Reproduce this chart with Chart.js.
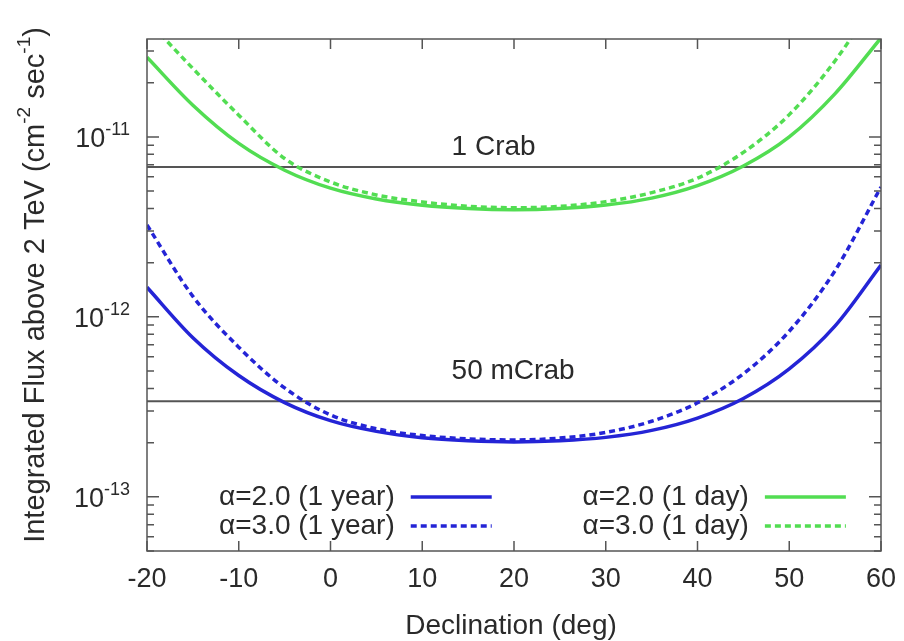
<!DOCTYPE html>
<html>
<head>
<meta charset="utf-8">
<title>Integrated flux sensitivity vs declination</title>
<script src="https://cdn.jsdelivr.net/npm/chart.js@4.4.1/dist/chart.umd.min.js"></script>
<style>
  html, body { margin: 0; padding: 0; background: #fff; }
  #wrap { width: 904px; height: 641px; }
</style>
</head>
<body>
<div id="wrap"><canvas id="fluxChart" width="904" height="641"></canvas></div>
<script>
// declination grid (deg) and sensitivity curves (cm^-2 s^-1, above 2 TeV)
const declination = [-20, -15, -10, -5, 0, 5, 10, 15, 20, 25, 30, 35, 40, 45, 50, 55, 60];
const fluxA2Year = [1.46e-12, 7.66e-13, 4.72e-13, 3.34e-13, 2.65e-13, 2.31e-13, 2.13e-13, 2.05e-13, 2.02e-13,
                    2.05e-13, 2.14e-13, 2.34e-13, 2.74e-13, 3.52e-13, 5.14e-13, 8.91e-13, 1.94e-12];
const fluxA3Year = [3.24e-12, 1.30e-12, 6.78e-13, 4.03e-13, 2.85e-13, 2.39e-13, 2.19e-13, 2.10e-13, 2.07e-13,
                    2.12e-13, 2.28e-13, 2.63e-13, 3.33e-13, 4.83e-13, 8.32e-13, 1.81e-12, 5.27e-12];
const fluxA2Day  = [2.77e-11, 1.50e-11, 9.2e-12, 6.53e-12, 5.19e-12, 4.52e-12, 4.17e-12, 4.00e-12, 3.94e-12,
                    4.00e-12, 4.18e-12, 4.57e-12, 5.36e-12, 6.89e-12, 1.00e-11, 1.74e-11, 3.55e-11];
const fluxA3Day  = [4.47e-11, 2.40e-11, 1.32e-11, 7.59e-12, 5.62e-12, 4.76e-12, 4.35e-12, 4.12e-12, 4.04e-12,
                    4.11e-12, 4.37e-12, 4.90e-12, 5.90e-12, 8.20e-12, 1.33e-11, 2.65e-11, 6.4e-11];
const seriesLabels = ['\u03b1=2.0 (1 year)', '\u03b1=3.0 (1 year)', '\u03b1=2.0 (1 day)', '\u03b1=3.0 (1 day)'];

// Crab reference levels
const crabFlux = 6.8e-12;
const milliCrabFlux = 3.4e-13;
const refLabels = ['1 Crab', '50 mCrab'];
const refLabelFlux = [8.8e-12, 5e-13];
const refLabelDec = 13.2;

// axes
const xTicks = [-20, -10, 0, 10, 20, 30, 40, 50, 60];
const yTickExponents = [-13, -12, -11];
const yRange = [5e-14, 3.5e-11];

const FONT = '"Liberation Sans", Arial, Helvetica, sans-serif';
const TEXT_SIZE = 28;
const BLUE = '#2424d6';
const GREEN = '#52dd52';
const INK = '#2a2a2a';
const AXIS = '#555';

function toPoints(values) {
  return declination.map((d, i) => ({ x: d, y: values[i] }));
}

function curve(label, values, color, dashed) {
  return {
    label: label,
    data: toPoints(values),
    borderColor: color,
    borderWidth: 3.5,
    borderDash: dashed ? [6, 4] : [],
    pointRadius: 0,
    cubicInterpolationMode: 'monotone',
    clip: 0,
    fill: false
  };
}

function refLine(label, level) {
  return {
    label: label,
    data: [{ x: xTicks[0], y: level }, { x: xTicks[xTicks.length - 1], y: level }],
    borderColor: AXIS,
    borderWidth: 2,
    pointRadius: 0,
    clip: 0,
    isReference: true
  };
}

// draws text runs with superscripts, returns total width
function drawRuns(ctx, runs, x, y, size) {
  let cx = x;
  runs.forEach(r => {
    const s = r.sup ? Math.round(size * 0.66) : size;
    ctx.font = s + 'px ' + FONT;
    ctx.fillText(r.text, cx, r.sup ? y - size * 0.38 : y);
    cx += ctx.measureText(r.text).width;
  });
  return cx - x;
}

function runsWidth(ctx, runs, size) {
  let w = 0;
  runs.forEach(r => {
    ctx.font = (r.sup ? Math.round(size * 0.66) : size) + 'px ' + FONT;
    w += ctx.measureText(r.text).width;
  });
  return w;
}

const gnuplotFrame = {
  id: 'gnuplotFrame',
  beforeDraw(chart) {
    const ctx = chart.ctx;
    ctx.save();
    ctx.fillStyle = '#fff';
    ctx.fillRect(0, 0, chart.width, chart.height);
    ctx.restore();
  },
  afterDatasetsDraw(chart) {
    const { ctx, chartArea: a, scales: { x, y } } = chart;
    ctx.save();

    // border box and inward ticks
    ctx.strokeStyle = AXIS;
    ctx.lineWidth = 1.5;
    ctx.setLineDash([]);
    ctx.beginPath();
    xTicks.forEach(v => {
      const px = x.getPixelForValue(v);
      ctx.moveTo(px, a.bottom); ctx.lineTo(px, a.bottom - 10);
      ctx.moveTo(px, a.top); ctx.lineTo(px, a.top + 10);
    });
    for (let e = yTickExponents[0] - 1; e <= yTickExponents[yTickExponents.length - 1]; e++) {
      for (let m = 1; m <= 9; m++) {
        const v = Number((m * Math.pow(10, e)).toPrecision(3));
        if (v < yRange[0] * 0.999 || v > yRange[1]) continue;
        const py = y.getPixelForValue(v);
        const len = m === 1 ? 12 : 7;
        ctx.moveTo(a.left, py); ctx.lineTo(a.left + len, py);
        ctx.moveTo(a.right, py); ctx.lineTo(a.right - len, py);
      }
    }
    ctx.stroke();
    ctx.strokeRect(a.left, a.top, a.right - a.left, a.bottom - a.top);

    ctx.fillStyle = INK;
    ctx.textBaseline = 'middle';

    // x tick labels
    ctx.textAlign = 'center';
    ctx.font = (TEXT_SIZE - 1) + 'px ' + FONT;
    xTicks.forEach(v => ctx.fillText(String(v), x.getPixelForValue(v), a.bottom + 29));

    // y tick labels: 10^n
    ctx.textAlign = 'left';
    yTickExponents.forEach(e => {
      const runs = [{ text: '10' }, { text: String(e), sup: true }];
      const w = runsWidth(ctx, runs, TEXT_SIZE - 1);
      drawRuns(ctx, runs, a.left - 17 - w, y.getPixelForValue(Math.pow(10, e)) + 3, TEXT_SIZE - 1);
    });

    // axis titles
    ctx.textAlign = 'center';
    ctx.font = TEXT_SIZE + 'px ' + FONT;
    ctx.fillText('Declination (deg)', (a.left + a.right) / 2 - 3, a.bottom + 75);

    const yTitle = [{ text: 'Integrated Flux above 2 TeV (cm' }, { text: '-2', sup: true },
                    { text: ' sec' }, { text: '-1', sup: true }, { text: ')' }];
    ctx.save();
    ctx.translate(36, (a.top + a.bottom) / 2 - 10);
    ctx.rotate(-Math.PI / 2);
    ctx.textAlign = 'left';
    const tw = runsWidth(ctx, yTitle, TEXT_SIZE + 1);
    drawRuns(ctx, yTitle, -tw / 2, 0, TEXT_SIZE + 1);
    ctx.restore();

    // Crab level labels
    ctx.textAlign = 'left';
    ctx.font = TEXT_SIZE + 'px ' + FONT;
    refLabels.forEach((t, i) => {
      ctx.fillText(t, x.getPixelForValue(refLabelDec), y.getPixelForValue(refLabelFlux[i]));
    });

    // key: two columns, text right-justified before the line sample
    const curves = chart.data.datasets.filter(d => !d.isReference);
    const colRight = [x.getPixelForValue(7.0), x.getPixelForValue(45.6)];
    const rowY = [a.bottom - 54, a.bottom - 25];
    curves.forEach((d, i) => {
      const col = Math.floor(i / 2), row = i % 2;
      const tx = colRight[col], ty = rowY[row];
      ctx.textAlign = 'right';
      ctx.fillStyle = INK;
      ctx.font = TEXT_SIZE + 'px ' + FONT;
      ctx.fillText(d.label, tx, ty);
      ctx.strokeStyle = d.borderColor;
      ctx.lineWidth = d.borderWidth;
      ctx.setLineDash(d.borderDash);
      ctx.beginPath();
      ctx.moveTo(tx + 16, ty);
      ctx.lineTo(tx + 97, ty);
      ctx.stroke();
    });

    ctx.restore();
  }
};

new Chart(document.getElementById('fluxChart'), {
  type: 'line',
  data: {
    datasets: [
      curve(seriesLabels[0], fluxA2Year, BLUE, false),
      curve(seriesLabels[1], fluxA3Year, BLUE, true),
      curve(seriesLabels[2], fluxA2Day, GREEN, false),
      curve(seriesLabels[3], fluxA3Day, GREEN, true),
      refLine(refLabels[0], crabFlux),
      refLine(refLabels[1], milliCrabFlux)
    ]
  },
  options: {
    responsive: false,
    devicePixelRatio: 1,
    animation: false,
    layout: { padding: { top: 39, right: 23, left: 0, bottom: 0 } },
    plugins: { legend: { display: false }, tooltip: { enabled: false } },
    scales: {
      x: {
        type: 'linear', min: xTicks[0], max: xTicks[xTicks.length - 1],
        grid: { display: false }, border: { display: false }, ticks: { display: false },
        afterFit(scale) { scale.height = 90; }
      },
      y: {
        type: 'logarithmic', min: yRange[0], max: yRange[1],
        grid: { display: false }, border: { display: false }, ticks: { display: false },
        afterFit(scale) { scale.width = 147; }
      }
    }
  },
  plugins: [gnuplotFrame]
});
</script>
</body>
</html>
